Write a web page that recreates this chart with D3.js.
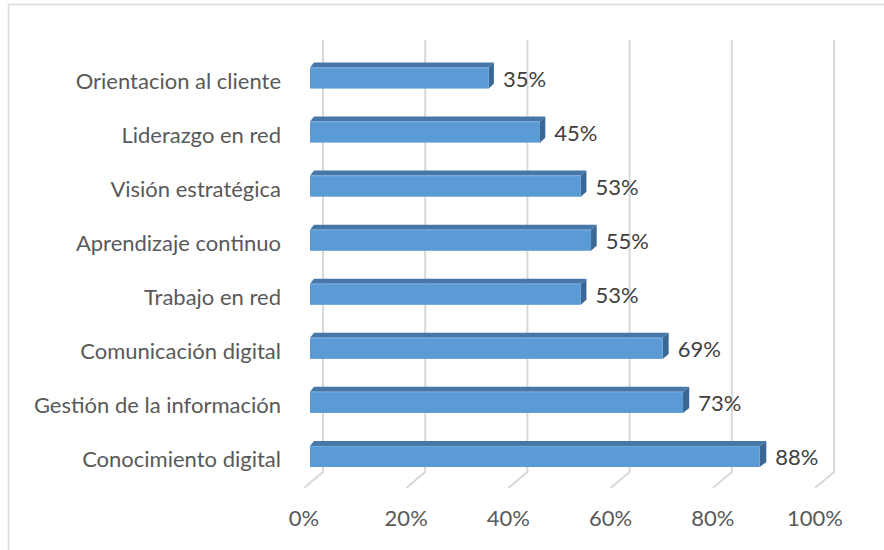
<!DOCTYPE html>
<html>
<head>
<meta charset="utf-8">
<script src="https://cdn.jsdelivr.net/npm/d3@7/dist/d3.min.js"></script>
<style>
  html, body { margin: 0; padding: 0; background: #fff; }
  svg { display: block; }
  text { font-family: Lato, "Open Sans", sans-serif; }
</style>
</head>
<body>
<svg id="chart" width="884" height="550"></svg>
<script>
// Competencias digitales: share of respondents per competence
const categories = [
  "Orientacion al cliente",
  "Liderazgo en red",
  "Visión estratégica",
  "Aprendizaje continuo",
  "Trabajo en red",
  "Comunicación digital",
  "Gestión de la información",
  "Conocimiento digital"
];
const values = [0.35, 0.45, 0.53, 0.55, 0.53, 0.69, 0.73, 0.88];
const tickValues = [0, 0.2, 0.4, 0.6, 0.8, 1.0];

const svg = d3.select("#chart");
const fmt = d3.format(".0%");
const fontSize = 22;

// chart frame
svg.append("rect")
  .attr("x", 8.5).attr("y", 4.5)
  .attr("width", 900).attr("height", 600)
  .attr("fill", "none").attr("stroke", "#d9d9d9").attr("stroke-width", 1.5);

// value scale on the bar plane; the back wall and front floor edge are offset from it
const x = d3.scaleLinear().domain([0, 1]).range([310, 821]);
const backOff = 13, frontOff = -6;
const wallTop = 40, wallBottom = 472, floorFront = 488;

const y = d3.scaleBand().domain(categories).range([51, 483.5]).paddingInner(0.61).paddingOuter(0.305);

// gridlines: vertical on the back wall, then slanting forward across the floor
const grid = svg.append("g").attr("fill", "none").attr("stroke", "#d9d9d9").attr("stroke-width", 2);
tickValues.forEach(t => {
  const xb = x(t) + backOff, xf = x(t) + frontOff;
  grid.append("path")
    .attr("d", `M${xb},${wallTop} L${xb},${wallBottom} L${xf},${floorFront}`);
});

// tick labels along the front floor edge
const ax = svg.append("g");
ax.selectAll("text").data(tickValues).join("text")
  .attr("x", d => x(d) + frontOff)
  .attr("y", 526)
  .attr("text-anchor", "middle")
  .attr("font-size", fontSize)
  .attr("fill", "#595959")
  .text(d => fmt(d));

// 3D bars: front face, top face, side face
const bars = svg.append("g");
const dy = 5;
const dxAt = v => 4 + 3 * v; // depth offset grows toward the right
categories.forEach((c, i) => {
  const v = values[i];
  const x0 = x(0), x1 = x(v);
  const yt = y(c), h = y.bandwidth();
  const dl = dxAt(0), dr = dxAt(v);
  const g = bars.append("g");
  g.append("path")
    .attr("d", `M${x0},${yt} L${x1},${yt} L${x1 + dr},${yt - dy} L${x0 + dl},${yt - dy} Z`)
    .attr("fill", "#4677a8");
  g.append("path")
    .attr("d", `M${x1},${yt} L${x1 + dr},${yt - dy} L${x1 + dr},${yt + h - dy} L${x1},${yt + h} Z`)
    .attr("fill", "#3a6794");
  g.append("rect")
    .attr("x", x0).attr("y", yt)
    .attr("width", x1 - x0).attr("height", h)
    .attr("fill", "#5b9bd5");
  g.append("line")
    .attr("x1", x0).attr("x2", x1).attr("y1", yt + 0.5).attr("y2", yt + 0.5)
    .attr("stroke", "#6fa9dd").attr("stroke-width", 1);

  // value label
  svg.append("text")
    .attr("x", x1 + dr + 9)
    .attr("y", yt + h / 2 + 3)
    .attr("dominant-baseline", "middle")
    .attr("font-size", fontSize)
    .attr("fill", "#404040")
    .text(fmt(v));

  // category label
  svg.append("text")
    .attr("x", 281)
    .attr("y", yt + h / 2 + 5)
    .attr("dominant-baseline", "middle")
    .attr("text-anchor", "end")
    .attr("font-size", fontSize)
    .attr("fill", "#595959")
    .text(c);
});
</script>
</body>
</html>
